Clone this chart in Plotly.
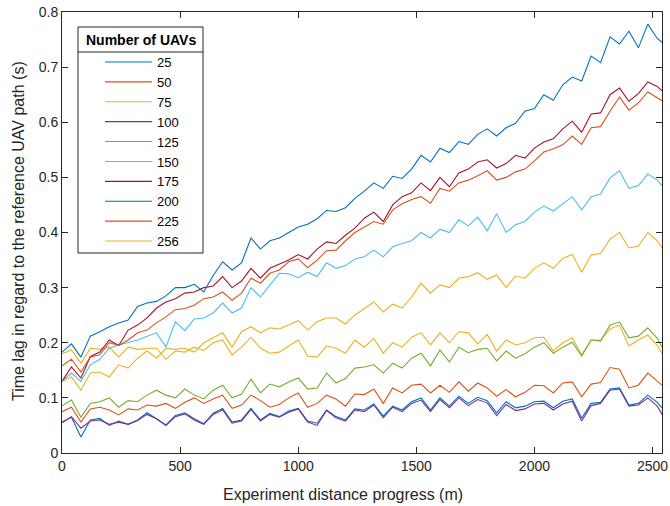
import plotly.graph_objects as go

# distance progress (m)
distance = list(range(0, 2521, 40)) + [2540]

uav_counts = ["25", "50", "75", "100", "125", "150", "175", "200", "225", "256"]

lag_25 = [0.056, 0.065, 0.029, 0.060, 0.063, 0.050, 0.058, 0.052, 0.060, 0.073,
          0.062, 0.051, 0.068, 0.073, 0.062, 0.053, 0.072, 0.081, 0.056, 0.060,
          0.081, 0.060, 0.072, 0.066, 0.076, 0.081, 0.058, 0.054, 0.078, 0.066,
          0.060, 0.080, 0.078, 0.089, 0.067, 0.085, 0.078, 0.093, 0.100, 0.078,
          0.100, 0.085, 0.103, 0.090, 0.101, 0.095, 0.073, 0.093, 0.082, 0.085,
          0.093, 0.094, 0.082, 0.094, 0.098, 0.063, 0.090, 0.092, 0.116, 0.118,
          0.087, 0.090, 0.105, 0.092, 0.082]
lag_50 = [0.075, 0.083, 0.056, 0.080, 0.083, 0.078, 0.069, 0.080, 0.078, 0.087,
          0.085, 0.090, 0.081, 0.092, 0.100, 0.090, 0.098, 0.105, 0.081, 0.087,
          0.105, 0.095, 0.083, 0.088, 0.100, 0.109, 0.083, 0.090, 0.105, 0.098,
          0.085, 0.107, 0.106, 0.116, 0.090, 0.118, 0.109, 0.123, 0.125, 0.109,
          0.123, 0.110, 0.129, 0.112, 0.127, 0.118, 0.103, 0.115, 0.102, 0.110,
          0.123, 0.122, 0.109, 0.127, 0.129, 0.102, 0.125, 0.128, 0.155, 0.152,
          0.118, 0.123, 0.145, 0.130, 0.123]
lag_75 = [0.180, 0.187, 0.163, 0.190, 0.188, 0.192, 0.174, 0.192, 0.188, 0.190,
          0.190, 0.170, 0.185, 0.183, 0.192, 0.186, 0.200, 0.205, 0.178, 0.192,
          0.210, 0.190, 0.181, 0.183, 0.194, 0.205, 0.176, 0.174, 0.194, 0.190,
          0.181, 0.205, 0.192, 0.208, 0.181, 0.200, 0.192, 0.210, 0.218, 0.196,
          0.218, 0.200, 0.220, 0.218, 0.198, 0.215, 0.185, 0.205, 0.196, 0.200,
          0.209, 0.210, 0.185, 0.200, 0.209, 0.178, 0.205, 0.205, 0.225, 0.232,
          0.194, 0.205, 0.214, 0.195, 0.181]
lag_100 = [0.055, 0.066, 0.045, 0.058, 0.060, 0.052, 0.056, 0.052, 0.059, 0.070,
           0.062, 0.050, 0.066, 0.071, 0.060, 0.052, 0.070, 0.078, 0.054, 0.058,
           0.079, 0.058, 0.070, 0.065, 0.074, 0.080, 0.056, 0.050, 0.077, 0.064,
           0.058, 0.078, 0.075, 0.087, 0.064, 0.083, 0.075, 0.090, 0.096, 0.075,
           0.097, 0.082, 0.100, 0.086, 0.097, 0.091, 0.068, 0.088, 0.077, 0.080,
           0.089, 0.090, 0.078, 0.089, 0.094, 0.058, 0.086, 0.090, 0.114, 0.116,
           0.085, 0.087, 0.100, 0.085, 0.070]
lag_125 = [0.085, 0.096, 0.065, 0.090, 0.093, 0.100, 0.083, 0.095, 0.093, 0.105,
           0.114, 0.105, 0.100, 0.116, 0.105, 0.098, 0.114, 0.123, 0.100, 0.107,
           0.134, 0.109, 0.125, 0.120, 0.129, 0.136, 0.116, 0.118, 0.145, 0.127,
           0.135, 0.154, 0.156, 0.160, 0.145, 0.163, 0.154, 0.172, 0.181, 0.158,
           0.187, 0.165, 0.192, 0.182, 0.188, 0.190, 0.167, 0.185, 0.172, 0.180,
           0.192, 0.200, 0.181, 0.192, 0.201, 0.176, 0.205, 0.203, 0.232, 0.238,
           0.209, 0.212, 0.227, 0.208, 0.192]
lag_150 = [0.130, 0.145, 0.130, 0.160, 0.170, 0.190, 0.196, 0.200, 0.205, 0.212,
           0.218, 0.192, 0.238, 0.222, 0.243, 0.245, 0.254, 0.272, 0.254, 0.263,
           0.300, 0.283, 0.305, 0.326, 0.325, 0.318, 0.328, 0.320, 0.345, 0.335,
           0.340, 0.352, 0.356, 0.368, 0.356, 0.374, 0.380, 0.385, 0.400, 0.390,
           0.406, 0.400, 0.423, 0.412, 0.428, 0.403, 0.434, 0.400, 0.414, 0.420,
           0.437, 0.448, 0.439, 0.452, 0.465, 0.441, 0.465, 0.470, 0.499, 0.512,
           0.480, 0.485, 0.506, 0.495, 0.485]
lag_175 = [0.130, 0.156, 0.136, 0.175, 0.183, 0.205, 0.195, 0.223, 0.232, 0.245,
           0.263, 0.274, 0.280, 0.290, 0.292, 0.300, 0.303, 0.320, 0.300, 0.312,
           0.335, 0.317, 0.335, 0.342, 0.350, 0.360, 0.352, 0.370, 0.383, 0.380,
           0.395, 0.408, 0.426, 0.437, 0.420, 0.450, 0.465, 0.472, 0.490, 0.476,
           0.500, 0.483, 0.508, 0.515, 0.528, 0.532, 0.517, 0.525, 0.540, 0.535,
           0.553, 0.564, 0.570, 0.588, 0.602, 0.582, 0.615, 0.617, 0.650, 0.662,
           0.638, 0.652, 0.673, 0.665, 0.657]
lag_200 = [0.183, 0.198, 0.174, 0.212, 0.220, 0.229, 0.236, 0.241, 0.266, 0.272,
           0.275, 0.285, 0.300, 0.300, 0.306, 0.292, 0.322, 0.347, 0.332, 0.345,
           0.390, 0.370, 0.385, 0.390, 0.400, 0.410, 0.415, 0.425, 0.440, 0.438,
           0.445, 0.462, 0.475, 0.490, 0.480, 0.502, 0.498, 0.515, 0.540, 0.528,
           0.553, 0.545, 0.565, 0.560, 0.578, 0.588, 0.575, 0.590, 0.598, 0.620,
           0.625, 0.650, 0.640, 0.668, 0.682, 0.675, 0.720, 0.708, 0.755, 0.742,
           0.765, 0.735, 0.778, 0.752, 0.745]
lag_225 = [0.158, 0.170, 0.147, 0.174, 0.178, 0.200, 0.195, 0.205, 0.218, 0.223,
           0.236, 0.247, 0.260, 0.262, 0.268, 0.280, 0.283, 0.292, 0.277, 0.290,
           0.317, 0.308, 0.326, 0.332, 0.347, 0.352, 0.336, 0.350, 0.367, 0.368,
           0.385, 0.400, 0.410, 0.420, 0.415, 0.441, 0.452, 0.460, 0.465, 0.453,
           0.480, 0.475, 0.490, 0.495, 0.503, 0.512, 0.495, 0.500, 0.510, 0.515,
           0.530, 0.546, 0.552, 0.559, 0.575, 0.560, 0.590, 0.592, 0.620, 0.646,
           0.622, 0.635, 0.655, 0.645, 0.639]
lag_256 = [0.130, 0.138, 0.114, 0.145, 0.147, 0.138, 0.160, 0.154, 0.172, 0.185,
           0.172, 0.190, 0.188, 0.190, 0.183, 0.200, 0.209, 0.218, 0.192, 0.220,
           0.229, 0.218, 0.227, 0.225, 0.232, 0.240, 0.223, 0.238, 0.245, 0.245,
           0.234, 0.250, 0.262, 0.274, 0.256, 0.270, 0.263, 0.283, 0.308, 0.290,
           0.305, 0.300, 0.317, 0.320, 0.327, 0.315, 0.323, 0.300, 0.321, 0.317,
           0.335, 0.345, 0.335, 0.353, 0.360, 0.328, 0.359, 0.362, 0.388, 0.400,
           0.372, 0.375, 0.400, 0.385, 0.372]

series = [lag_25, lag_50, lag_75, lag_100, lag_125,
          lag_150, lag_175, lag_200, lag_225, lag_256]
colors = ["#0072BD", "#D95319", "#EDB120", "#7E2F8E", "#77AC30",
          "#4DBEEE", "#A2142F", "#0072BD", "#D95319", "#EDB120"]

FONT = "Liberation Sans, Arial, Helvetica, sans-serif"
AX = "#262626"

fig = go.Figure()
for name, vals, c in zip(uav_counts, series, colors):
    fig.add_trace(go.Scatter(x=distance, y=vals, mode="lines", name=name,
                             line=dict(color=c, width=1.1)))

W, H = 670, 506
L, R, T, B = 62, 8, 12, 53
pw, ph = W - L - R, H - T - B

def px_x(p):
    return (p - L) / pw

def px_y(p):
    return (H - B - p) / ph

# legend box and title separator
fig.add_shape(type="rect", xref="paper", yref="paper",
              x0=px_x(78), x1=px_x(203), y0=px_y(253), y1=px_y(27),
              line=dict(color=AX, width=1), fillcolor="white", layer="above")
fig.add_shape(type="line", xref="paper", yref="paper",
              x0=px_x(78), x1=px_x(203), y0=px_y(52), y1=px_y(52),
              line=dict(color=AX, width=1), layer="above")
fig.add_annotation(text="<b>Number of UAVs</b>", xref="paper", yref="paper",
                   x=px_x(140.5), y=px_y(40), showarrow=False,
                   xanchor="center", yanchor="middle",
                   font=dict(family=FONT, size=14, color="black"))

# axis titles
fig.add_annotation(text="Experiment distance progress (m)", xref="paper", yref="paper",
                   x=px_x(343), y=px_y(494), showarrow=False,
                   xanchor="center", yanchor="middle",
                   font=dict(family=FONT, size=16, color=AX))
fig.add_annotation(text="Time lag in regard to the reference UAV path (s)",
                   xref="paper", yref="paper", textangle=-90,
                   x=px_x(18), y=px_y(231), showarrow=False,
                   xanchor="center", yanchor="middle",
                   font=dict(family=FONT, size=16, color=AX))

fig.update_layout(
    width=W, height=H,
    margin=dict(l=L, r=R, t=T, b=B, autoexpand=False),
    paper_bgcolor="white", plot_bgcolor="white",
    font=dict(family=FONT, size=14, color=AX),
    showlegend=True,
    legend=dict(x=px_x(100), y=px_y(47), xanchor="left", yanchor="top",
                bgcolor="rgba(0,0,0,0)", borderwidth=0,
                font=dict(family=FONT, size=13, color="black"),
                itemwidth=47, tracegroupgap=0),
    xaxis=dict(range=[0, 2540], tickvals=[0, 500, 1000, 1500, 2000, 2500],
               ticks="inside", ticklen=6, tickcolor=AX, showline=True,
               linecolor=AX, linewidth=1, mirror="ticks", showgrid=False,
               zeroline=False, automargin=False,
               tickfont=dict(size=14, color=AX)),
    yaxis=dict(range=[0, 0.8], tickvals=[0, 0.1, 0.2, 0.3, 0.4, 0.5, 0.6, 0.7, 0.8],
               ticktext=["0", "0.1", "0.2", "0.3", "0.4", "0.5", "0.6", "0.7", "0.8"],
               ticks="inside", ticklen=6, tickcolor=AX, showline=True,
               linecolor=AX, linewidth=1, mirror="ticks", showgrid=False,
               zeroline=False, automargin=False,
               tickfont=dict(size=14, color=AX)),
)

fig.write_html("out.html")
